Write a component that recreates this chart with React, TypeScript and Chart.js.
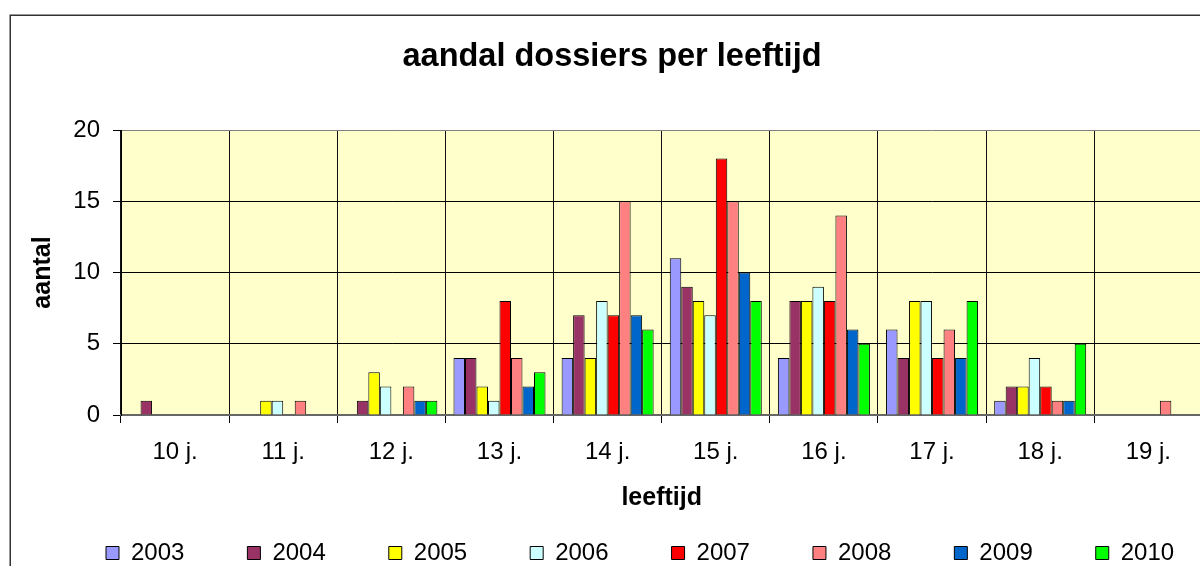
import React, { useEffect, useRef } from "react";
import { Chart, registerables } from "chart.js";

Chart.register(...registerables);

const categories = ["10 j.", "11 j.", "12 j.", "13 j.", "14 j.", "15 j.", "16 j.", "17 j.", "18 j.", "19 j."];
const years = ["2003", "2004", "2005", "2006", "2007", "2008", "2009", "2010"];
const s2003 = [0, 0, 0, 4, 4, 11, 4, 6, 1, 0];
const s2004 = [1, 0, 1, 4, 7, 9, 8, 4, 2, 0];
const s2005 = [0, 1, 3, 2, 4, 8, 8, 8, 2, 0];
const s2006 = [0, 1, 2, 1, 8, 7, 9, 8, 4, 0];
const s2007 = [0, 0, 0, 8, 7, 18, 8, 4, 2, 0];
const s2008 = [0, 1, 2, 4, 15, 15, 14, 6, 1, 1];
const s2009 = [0, 0, 1, 2, 7, 10, 6, 4, 1, 0];
const s2010 = [0, 0, 1, 3, 6, 8, 5, 8, 5, 0];
const seriesValues = [s2003, s2004, s2005, s2006, s2007, s2008, s2009, s2010];
const seriesColors = ["#9999FF", "#993366", "#FFFF00", "#CCFFFF", "#FF0000", "#FF8080", "#0066CC", "#00FF00"];
const yTicks = [0, 5, 10, 15, 20];

const FONT = 'Arial, "Liberation Sans", sans-serif';

const decorPlugin = {
  id: "decor",
  beforeDraw(chart: any) {
    const { ctx, chartArea } = chart;
    ctx.save();
    ctx.fillStyle = "#FFFFCC";
    ctx.fillRect(chartArea.left, chartArea.top, chartArea.right - chartArea.left, chartArea.bottom - chartArea.top);
    ctx.strokeStyle = "#333333";
    ctx.lineWidth = 1.5;
    ctx.strokeRect(10.25, 15.25, 3000, 3000);
    ctx.restore();
  },
  afterLayout(chart: any) {
    const t = chart.titleBlock;
    if (t) {
      const dx = 612 - (t.left + t.right) / 2;
      t.left += dx;
      t.right += dx;
    }
    const lg = chart.legend;
    if (lg && lg.lineWidths) {
      const pad = lg.options.labels.padding;
      const start = (lg.left + pad + lg.right - lg.lineWidths[0]) / 2;
      const dx = 106 - start;
      lg.left += dx;
      lg.right += dx;
      const itemCenter = lg.top + pad + 12;
      const dy = 553 - itemCenter;
      lg.top += dy;
      lg.bottom += dy;
    }
  },
};

export default function App() {
  const ref = useRef<HTMLCanvasElement | null>(null);

  useEffect(() => {
    if (!ref.current) return;
    const chart = new Chart(ref.current, {
      type: "bar",
      data: {
        labels: categories,
        datasets: years.map((y, i) => ({
          label: y,
          data: seriesValues[i],
          backgroundColor: seriesColors[i],
          borderColor: "#000000",
          borderWidth: 1,
          categoryPercentage: 0.851,
          barPercentage: 1,
        })),
      },
      options: {
        responsive: false,
        animation: false,
        devicePixelRatio: 1,
        layout: { padding: { left: 0, top: 15, right: 37.6, bottom: 26.2 } },
        font: { family: FONT },
        plugins: {
          title: {
            display: true,
            text: "aandal dossiers per leeftijd",
            color: "#000",
            font: { family: FONT, size: 32.5, weight: "bold" },
            padding: { top: 23, bottom: 53 },
          },
          legend: {
            display: true,
            position: "bottom",
            labels: {
              color: "#000",
              font: { family: FONT, size: 24 },
              boxWidth: 13,
              boxHeight: 13,
              padding: 63,
            },
          },
          tooltip: { enabled: false },
        },
        scales: {
          x: {
            grid: {
              display: true,
              color: "#111111",
              lineWidth: 1,
              drawTicks: true,
              tickLength: 8,
              tickColor: "#000",
              offset: true,
            },
            border: { display: true, color: "#666666", width: 2 },
            ticks: {
              color: "#000",
              font: { family: FONT, size: 24 },
              padding: 15,
              maxRotation: 0,
              autoSkip: false,
            },
            title: {
              display: true,
              text: "leeftijd",
              color: "#000",
              font: { family: FONT, size: 25, weight: "bold" },
              padding: { top: 1, bottom: 4 },
            },
          },
          y: {
            min: 0,
            max: 20,
            afterFit(scale: any) {
              scale.width = 121;
            },
            afterBuildTicks(scale: any) {
              scale.ticks = yTicks.map((v) => ({ value: v }));
            },
            grid: {
              display: true,
              color: (c: any) => (c.tick && c.tick.value === 20 ? "#808080" : "#000000"),
              lineWidth: 1,
              drawTicks: true,
              tickLength: 8,
              tickColor: "#000",
            },
            border: { display: true, color: "#000", width: 1 },
            ticks: {
              color: "#000",
              font: { family: FONT, size: 24 },
              padding: 13,
            },
            title: {
              display: true,
              text: "aantal",
              color: "#000",
              font: { family: FONT, size: 25, weight: "bold" },
              padding: { top: 28, bottom: 4 },
            },
          },
        },
      },
      plugins: [decorPlugin],
    });
    return () => chart.destroy();
  }, []);

  return (
    <div style={{ position: "fixed", left: 0, top: 0, width: 1200, height: 566, overflow: "hidden", background: "#fff" }}>
      <canvas ref={ref} width={1240} height={640} style={{ display: "block" }} />
    </div>
  );
}
